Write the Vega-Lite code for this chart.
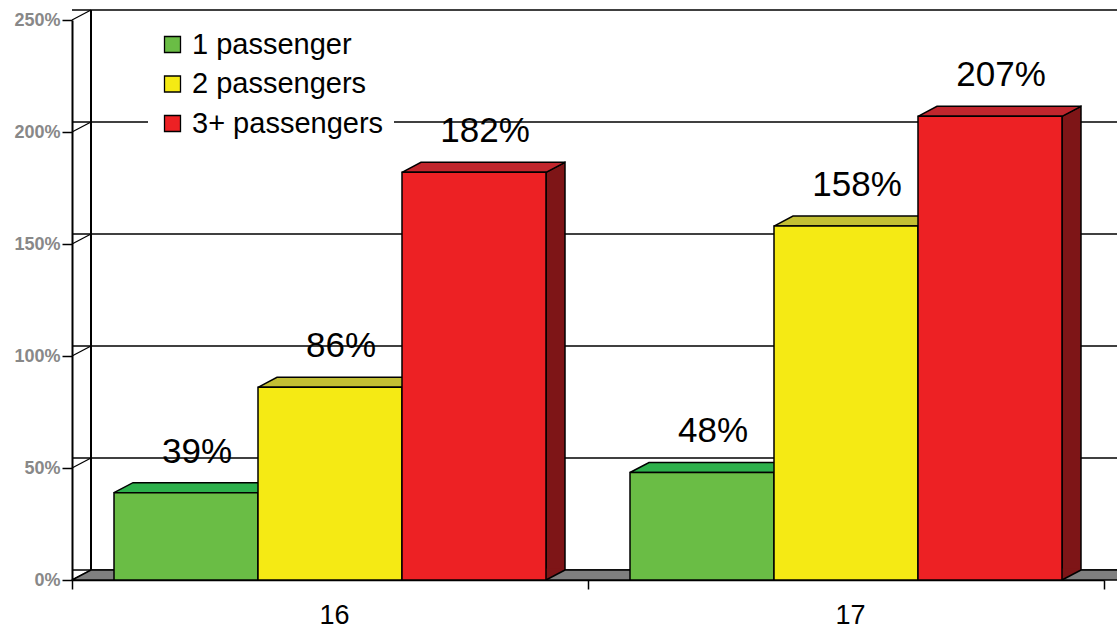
{
  "$schema": "https://vega.github.io/schema/vega-lite/v6.json",
  "width": 1032,
  "height": 560,
  "autosize": "none",
  "padding": {"left": 72, "top": 20, "right": 13, "bottom": 50},
  "background": "white",
  "config": {"view": {"stroke": null}, "font": "Liberation Sans"},
  "datasets": {
    "bars": [
      {"year": "16", "series": "1 passenger", "value": 0.39},
      {"year": "16", "series": "2 passengers", "value": 0.86},
      {"year": "16", "series": "3+ passengers", "value": 1.82},
      {"year": "17", "series": "1 passenger", "value": 0.48},
      {"year": "17", "series": "2 passengers", "value": 1.58},
      {"year": "17", "series": "3+ passengers", "value": 2.07}
    ],
    "ticks": [
      {"value": 0}, {"value": 0.5}, {"value": 1.0}, {"value": 1.5}, {"value": 2.0}, {"value": 2.5}
    ]
  },
  "layer": [
    {
      "data": {"name": "ticks"},
      "mark": {"type": "rule", "color": "black", "strokeWidth": 1.3, "xOffset": 19, "x2Offset": 19, "yOffset": -10},
      "encoding": {
        "y": {"field": "value", "type": "quantitative", "scale": {"domain": [0, 2.5], "nice": false}}
      }
    },
    {
      "data": {"name": "ticks"},
      "mark": {"type": "rule", "color": "black", "strokeWidth": 1.3, "x2Offset": 19, "y2Offset": -10},
      "encoding": {
        "x": {"datum": "16", "type": "nominal", "bandPosition": 0},
        "x2": {"datum": "16", "bandPosition": 0},
        "y": {"field": "value", "type": "quantitative"},
        "y2": {"field": "value"}
      }
    },
    {
      "data": {"name": "ticks"},
      "mark": {"type": "rule", "color": "black", "strokeWidth": 1.5, "xOffset": 19, "yOffset": -10, "y2Offset": -10},
      "encoding": {
        "x": {"datum": "16", "type": "nominal", "bandPosition": 0},
        "y": {"datum": 0, "type": "quantitative"},
        "y2": {"datum": 2.5}
      }
    },
    {
      "data": {"name": "bars"},
      "mark": {"type": "point", "shape": "M0.72,0L0.91,-0.1L0.91,6L0.72,6.1Z", "size": 40000, "filled": true, "stroke": "black", "strokeWidth": 1.5, "opacity": 1, "clip": true,
        "fill": {"expr": "datum.series === '1 passenger' ? '#3c7e2a' : datum.series === '2 passengers' ? '#a29c14' : '#7e1517'"}},
      "encoding": {
        "x": {"field": "year", "type": "nominal"},
        "xOffset": {"field": "series", "type": "nominal"},
        "y": {"field": "value", "type": "quantitative"}
      }
    },
    {
      "data": {"name": "ticks"},
      "transform": [{"filter": "datum.value == 0"}],
      "mark": {"type": "point", "shape": "M-0.86,0L0.8933,0L0.925,-0.016667L-0.828333,-0.016667Z", "size": 1440000, "filled": true, "fill": "#808080", "stroke": "black", "strokeWidth": 1.5, "opacity": 1},
      "encoding": {
        "x": {"datum": "17", "type": "nominal", "bandPosition": 0},
        "y": {"field": "value", "type": "quantitative"}
      }
    },
    {
      "data": {"name": "bars"},
      "mark": {"type": "point", "shape": "M0.72,-0.115L0.9025,-0.115L0.9025,-0.1L0.72,0Z", "size": 40000, "filled": true, "strokeWidth": 0, "opacity": 1,
        "fill": {"expr": "datum.series === '1 passenger' ? '#3c7e2a' : datum.series === '2 passengers' ? '#a29c14' : '#7e1517'"}},
      "encoding": {
        "x": {"field": "year", "type": "nominal"},
        "xOffset": {"field": "series", "type": "nominal"},
        "y": {"datum": 0, "type": "quantitative"}
      }
    },
    {
      "data": {"name": "bars"},
      "mark": {"type": "point", "shape": "M0.72,0L0.91,-0.1", "size": 40000, "filled": false, "fill": null, "stroke": "black", "strokeWidth": 1.5, "opacity": 1},
      "encoding": {
        "x": {"field": "year", "type": "nominal"},
        "xOffset": {"field": "series", "type": "nominal"},
        "y": {"datum": 0, "type": "quantitative"}
      }
    },
    {
      "data": {"name": "bars"},
      "mark": {"type": "point", "shape": "M-0.72,0L0.72,0L0.91,-0.1L-0.53,-0.1Z", "size": 40000, "filled": true, "stroke": "black", "strokeWidth": 1.5, "opacity": 1,
        "fill": {"expr": "datum.series === '1 passenger' ? '#2db04b' : datum.series === '2 passengers' ? '#c3bf33' : '#c1262d'"}},
      "encoding": {
        "x": {"field": "year", "type": "nominal"},
        "xOffset": {"field": "series", "type": "nominal"},
        "y": {"field": "value", "type": "quantitative"}
      }
    },
    {
      "data": {"name": "bars"},
      "mark": {"type": "bar", "stroke": "black", "strokeWidth": 1.5},
      "encoding": {
        "x": {"field": "year", "type": "nominal", "title": null,
          "scale": {"paddingInner": 0, "paddingOuter": 0},
          "axis": {"tickBand": "extent", "tickSize": 9, "tickColor": "black", "tickWidth": 1.5, "domainColor": "black", "domainWidth": 1.5,
            "labelFontSize": 27, "labelColor": "black", "labelPadding": 26, "labelAngle": 0, "labelAlign": "center", "labelOffset": 4, "labelFont": "Liberation Sans"}},
        "xOffset": {"field": "series", "type": "nominal", "scale": {"paddingInner": 0, "paddingOuter": 0.2917}},
        "y": {"field": "value", "type": "quantitative", "title": null,
          "scale": {"domain": [0, 2.5], "nice": false},
          "axis": {"values": [0, 0.5, 1, 1.5, 2, 2.5], "format": ".0%", "grid": false, "tickSize": 10, "tickColor": "black", "tickWidth": 1.5,
            "domainColor": "black", "domainWidth": 2, "labelFontSize": 18, "labelFontWeight": "bold", "labelColor": "#888888", "labelPadding": 2, "labelFont": "Liberation Sans"}},
        "color": {"field": "series", "type": "nominal",
          "scale": {"domain": ["1 passenger", "2 passengers", "3+ passengers"], "range": ["#6abd45", "#f5ea14", "#ed2124"]},
          "legend": {"title": null, "orient": "none", "legendX": 76, "legendY": 0, "direction": "vertical", "fillColor": "white", "padding": 10,
            "symbolType": "square", "symbolSize": 256, "symbolStrokeColor": "black", "symbolStrokeWidth": 1.3, "symbolOpacity": 1,
            "labelFontSize": 29, "labelOffset": 5, "rowPadding": 9.5, "labelColor": "black", "labelFont": "Liberation Sans", "labelLimit": 400}}
      }
    },
    {
      "data": {"name": "bars"},
      "mark": {"type": "text", "fontSize": 35, "dy": -30, "dx": 11, "baseline": "alphabetic", "align": "center", "color": "black", "font": "Liberation Sans"},
      "encoding": {
        "x": {"field": "year", "type": "nominal"},
        "xOffset": {"field": "series", "type": "nominal"},
        "y": {"field": "value", "type": "quantitative"},
        "text": {"field": "value", "type": "quantitative", "format": ".0%"}
      }
    }
  ]
}
